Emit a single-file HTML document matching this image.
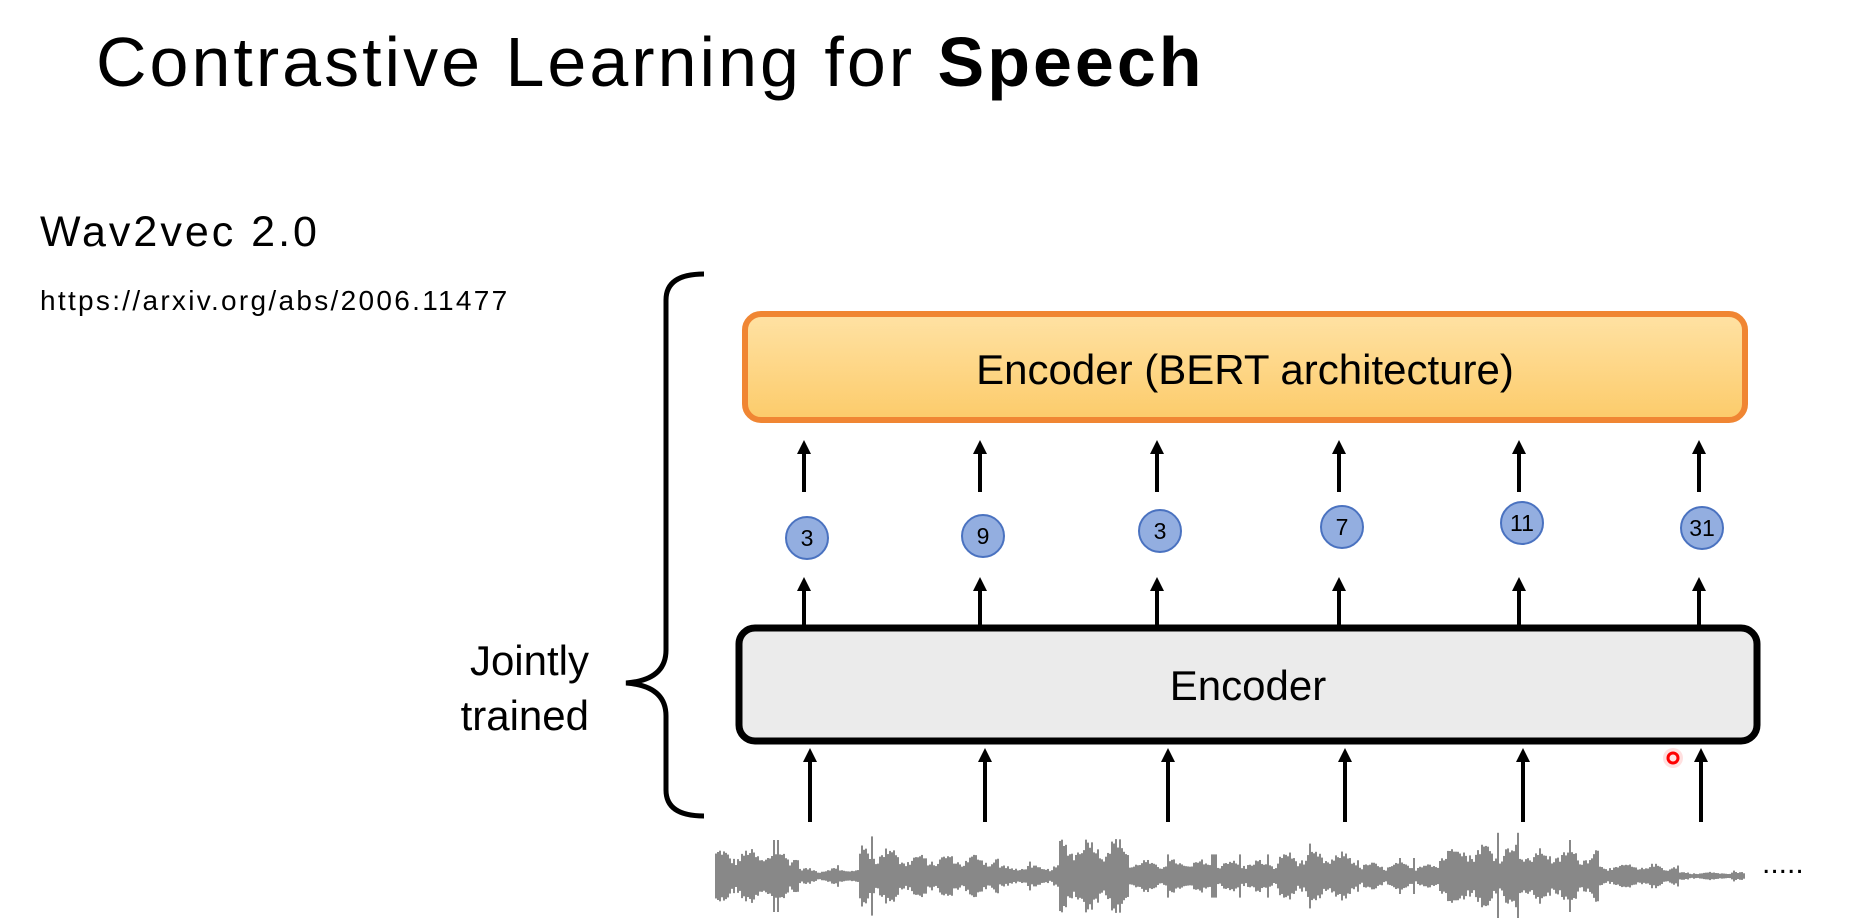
<!DOCTYPE html>
<html><head><meta charset="utf-8">
<style>
html,body{margin:0;padding:0;background:#fff;}
body{width:1855px;height:918px;position:relative;overflow:hidden;font-family:"Liberation Sans",sans-serif;color:#000;}
.t{position:absolute;white-space:nowrap;}
</style></head><body>
<div class="t" style="left:96px;top:22px;font-size:70px;letter-spacing:3px;">Contrastive Learning for <b>Speech</b></div>
<div class="t" style="left:40px;top:208px;font-size:43px;letter-spacing:3px;">Wav2vec 2.0</div>
<div class="t" style="left:40px;top:285px;font-size:28px;letter-spacing:2.3px;">https://arxiv.org/abs/2006.11477</div>
<div class="t" style="right:1266px;top:633px;font-size:42px;text-align:right;line-height:55px;">Jointly<br>trained</div>

<svg width="1855" height="918" style="position:absolute;left:0;top:0" xmlns="http://www.w3.org/2000/svg">
<defs>
<linearGradient id="og" x1="0" y1="0" x2="0" y2="1"><stop offset="0" stop-color="#FFE2A4"/><stop offset="1" stop-color="#FCCB6A"/></linearGradient>
</defs>
<path d="M704,274 Q666,274 666,300 L666,650 Q666,680 626,683 Q666,686 666,716 L666,790 Q666,816 704,816" fill="none" stroke="#000" stroke-width="5"/>
<rect x="745" y="314" width="1000" height="106" rx="16" fill="url(#og)" stroke="#F08633" stroke-width="6"/>
<text x="1245" y="384" text-anchor="middle" font-family="Liberation Sans" font-size="42">Encoder (BERT architecture)</text>
<rect x="739" y="628" width="1018" height="113" rx="16" fill="#EBEBEB" stroke="#000" stroke-width="7"/>
<text x="1248" y="700" text-anchor="middle" font-family="Liberation Sans" font-size="42">Encoder</text>
<g id="arr" stroke="#000" stroke-width="4"></g>
<g id="circ"></g>
<g id="wave" stroke="#6a6a6a" stroke-width="1.6"></g>
<text x="1762" y="873" font-family="Liberation Sans" font-size="30">.....</text>
<circle cx="1673" cy="758" r="5" fill="none" stroke="#f00" stroke-width="3"/>
<circle cx="1673" cy="758" r="10" fill="#f00" opacity="0.12"/>
</svg>
<script>
var NS="http://www.w3.org/2000/svg";
function el(t,a,p){var e=document.createElementNS(NS,t);for(var k in a)e.setAttribute(k,a[k]);p.appendChild(e);return e;}
var arr=document.getElementById('arr'),circ=document.getElementById('circ'),wave=document.getElementById('wave');
var xs=[804,980,1157,1339,1519,1699], xb=[810,985,1168,1345,1523,1701];
var cy=[538,536,531,527,523,528], nums=["3","9","3","7","11","31"];
function arrow(x,y1,y2){el('line',{x1:x,y1:y1,x2:x,y2:y2+10},arr);el('path',{d:'M'+(x-7)+','+(y2+14)+' L'+x+','+y2+' L'+(x+7)+','+(y2+14)+' Z',fill:'#000',stroke:'none'},arr);}
for(var i=0;i<6;i++){
 arrow(xs[i],492,440);
 arrow(xs[i],625,577);
 arrow(xb[i],822,748);
 el('circle',{cx:xs[i]+3,cy:cy[i],r:21,fill:'#93AEE0',stroke:'#4A72C0','stroke-width':2},circ);
 var t=el('text',{x:xs[i]+3,y:cy[i]+8,'text-anchor':'middle','font-family':'Liberation Sans','font-size':23},circ);t.textContent=nums[i];
}
var s=12345;function r(){s=(s*1103515245+12345)%2147483648;return s/2147483648;}
var amp=[[716,800,20],[800,860,6],[860,900,22],[900,1000,16],[1000,1060,8],[1060,1130,28],[1130,1180,12],[1180,1280,12],[1280,1360,18],[1360,1440,10],[1440,1520,24],[1520,1600,20],[1600,1680,9],[1680,1745,3]];
for(var x=716;x<1745;x+=2){
 var a=3;for(var j=0;j<amp.length;j++)if(x>=amp[j][0]&&x<amp[j][1])a=amp[j][2];
 var h=a*(0.5+0.5*Math.sin(x/9)*Math.sin(x/9)+r()*0.4);if(r()<0.03)h=a*1.8;
 el('line',{x1:x,y1:876-h,x2:x,y2:876+h},wave);
}
</script>
</body></html>
